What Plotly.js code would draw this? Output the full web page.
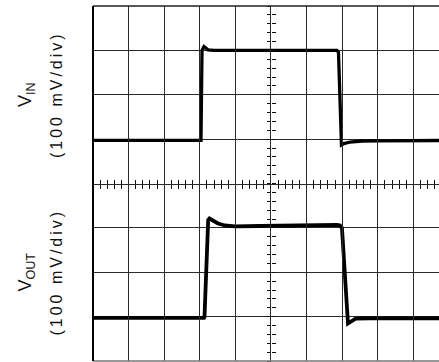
<!DOCTYPE html>
<html>
<head>
<meta charset="utf-8">
<script src="https://cdn.plot.ly/plotly-3.0.1.min.js"></script>
<style>
  html, body { margin: 0; padding: 0; background: #fff; }
  #chart { width: 439px; height: 362px; }
  text.ytitle tspan.line:last-child, text.y2title tspan.line:last-child { letter-spacing: 3px; }
</style>
</head>
<body>
<div id="chart"></div>
<script>
// Time in divisions (10 div full screen), voltage in divisions (100 mV/div), 0 = screen centre
const vinTime  = [0, 3.034, 3.062, 3.118, 3.23, 3.4, 6.854, 6.896, 6.98, 7.05, 7.22, 7.556, 8.06, 9.72];
const vinLevel = [0.974, 0.974, 2.997, 3.087, 3.013, 3.0, 3.0, 2.96, 0.868, 0.90, 0.935, 0.958, 0.962, 0.969];

const voutTime  = [0, 3.118, 3.132, 3.236, 3.272, 3.371, 3.511, 3.708, 3.989, 4.69, 5.815, 6.854, 6.938, 6.994, 7.163, 7.275, 7.388, 7.78, 9.72];
const voutLevel = [-3.03, -3.03, -3.008, -0.823, -0.789, -0.834, -0.901, -0.946, -0.964, -0.958, -0.935, -0.931, -0.946, -1.003, -3.155, -3.087, -3.042, -3.038, -3.038];

const labelTop    = 'V<sub>IN</sub>';
const labelBottom = 'V<sub>OUT</sub>';
const scaleLabel  = '(100 mV/div)';

const xRange = [0, 9.72];
const topRange = [0, 4];
const bottomRange = [-4, 0];
const fullRange = [-4, 4];

const traces = [
  { x: vinTime, y: vinLevel, xaxis: 'x', yaxis: 'y', mode: 'lines', line: { color: '#000', width: 3.3 }, hoverinfo: 'skip', showlegend: false },
  { x: voutTime, y: voutLevel, xaxis: 'x', yaxis: 'y2', mode: 'lines', line: { color: '#000', width: 3.8 }, hoverinfo: 'skip', showlegend: false },
  { x: [null], y: [null], xaxis: 'x2', yaxis: 'y', showlegend: false, hoverinfo: 'skip' },
  { x: [null], y: [null], xaxis: 'x3', yaxis: 'y', showlegend: false, hoverinfo: 'skip' },
  { x: [null], y: [null], xaxis: 'x', yaxis: 'y3', showlegend: false, hoverinfo: 'skip' },
  { x: [null], y: [null], xaxis: 'x', yaxis: 'y4', showlegend: false, hoverinfo: 'skip' }
];

const tickAxisX = (dir) => ({
  overlaying: 'x', anchor: 'free', position: 0.5, range: xRange,
  ticks: dir, ticklen: 4, tickwidth: 1, tickcolor: '#111', dtick: 0.2, tick0: 0,
  showticklabels: false, showgrid: false, zeroline: false, showline: false, fixedrange: true
});
const tickAxisY = (dir) => ({
  anchor: 'free', position: 5 / 9.72, domain: [0, 1], range: fullRange,
  ticks: dir, ticklen: 4, tickwidth: 1, tickcolor: '#111', dtick: 0.2, tick0: 0,
  showticklabels: false, showgrid: false, zeroline: false, showline: false, fixedrange: true
});

const fontFamily = 'Liberation Sans, Arial, sans-serif';
const titleText = (main) =>
  '<span style="font-size:18px">' + main + '</span><br><span style="font-size:16px">' + scaleLabel + '</span>';

const halfAxis = (domain, range, label) => ({
  domain: domain, range: range, anchor: 'x', dtick: 1, tick0: 0,
  showgrid: true, gridcolor: '#2a2a2a', gridwidth: 1,
  zeroline: false, showticklabels: false, ticks: '', showline: false, fixedrange: true,
  title: { text: titleText(label), standoff: 22, font: { family: fontFamily, size: 24, color: '#111' } }
});

const layout = {
  width: 439, height: 362,
  margin: { l: 93, r: 0, t: 6, b: 1 },
  paper_bgcolor: '#fff', plot_bgcolor: 'rgba(0,0,0,0)',
  xaxis: {
    range: xRange, dtick: 1, tick0: 0, showgrid: true, gridcolor: '#2a2a2a', gridwidth: 1,
    zeroline: false, showticklabels: false, ticks: '', showline: false, fixedrange: true, anchor: 'y2'
  },
  yaxis: halfAxis([0.5, 1], topRange, labelTop),
  yaxis2: halfAxis([0, 0.5], bottomRange, labelBottom),
  xaxis2: Object.assign(tickAxisX('outside'), { showline: true, linecolor: '#2a2a2a', linewidth: 1 }),
  xaxis3: tickAxisX('inside'),
  yaxis3: tickAxisY('outside'),
  yaxis4: tickAxisY('inside'),
  shapes: [
    { type: 'line', xref: 'paper', yref: 'paper', x0: 0, x1: 1, y0: 1, y1: 1, line: { color: '#222', width: 1.5 } },
    { type: 'line', xref: 'paper', yref: 'paper', x0: 0, x1: 1, y0: 0, y1: 0, line: { color: '#777', width: 1.5 } },
    { type: 'line', xref: 'paper', yref: 'paper', x0: 0, x1: 0, y0: 0, y1: 1, line: { color: '#000', width: 2 } }
  ]
};

Plotly.newPlot('chart', traces, layout, { displayModeBar: false });
</script>
</body>
</html>
